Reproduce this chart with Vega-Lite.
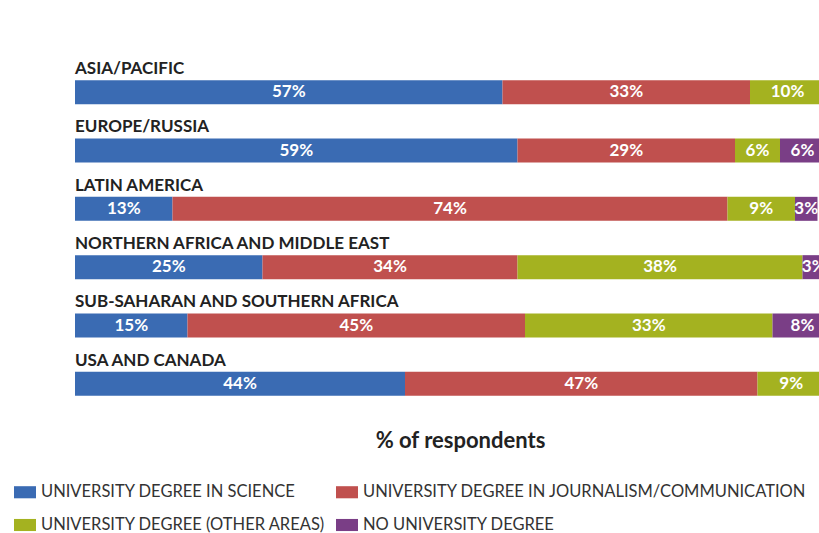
{
  "$schema": "https://vega.github.io/schema/vega-lite/v6.json",
  "width": 750,
  "height": 350,
  "autosize": "none",
  "padding": {"left": 75, "top": 63, "right": 0, "bottom": 120},
  "background": "white",
  "config": {"view": {"stroke": null}, "font": "Lato"},
  "data": {
    "values": [
      {"region": "ASIA/PACIFIC", "category": "UNIVERSITY DEGREE IN SCIENCE", "k": 1, "value": 57},
      {"region": "ASIA/PACIFIC", "category": "UNIVERSITY DEGREE IN JOURNALISM/COMMUNICATION", "k": 2, "value": 33},
      {"region": "ASIA/PACIFIC", "category": "UNIVERSITY DEGREE (OTHER AREAS)", "k": 3, "value": 10},
      {"region": "ASIA/PACIFIC", "category": "NO UNIVERSITY DEGREE", "k": 4, "value": 0},
      {"region": "EUROPE/RUSSIA", "category": "UNIVERSITY DEGREE IN SCIENCE", "k": 1, "value": 59},
      {"region": "EUROPE/RUSSIA", "category": "UNIVERSITY DEGREE IN JOURNALISM/COMMUNICATION", "k": 2, "value": 29},
      {"region": "EUROPE/RUSSIA", "category": "UNIVERSITY DEGREE (OTHER AREAS)", "k": 3, "value": 6},
      {"region": "EUROPE/RUSSIA", "category": "NO UNIVERSITY DEGREE", "k": 4, "value": 6},
      {"region": "LATIN AMERICA", "category": "UNIVERSITY DEGREE IN SCIENCE", "k": 1, "value": 13},
      {"region": "LATIN AMERICA", "category": "UNIVERSITY DEGREE IN JOURNALISM/COMMUNICATION", "k": 2, "value": 74},
      {"region": "LATIN AMERICA", "category": "UNIVERSITY DEGREE (OTHER AREAS)", "k": 3, "value": 9},
      {"region": "LATIN AMERICA", "category": "NO UNIVERSITY DEGREE", "k": 4, "value": 3},
      {"region": "NORTHERN AFRICA AND MIDDLE EAST", "category": "UNIVERSITY DEGREE IN SCIENCE", "k": 1, "value": 25},
      {"region": "NORTHERN AFRICA AND MIDDLE EAST", "category": "UNIVERSITY DEGREE IN JOURNALISM/COMMUNICATION", "k": 2, "value": 34},
      {"region": "NORTHERN AFRICA AND MIDDLE EAST", "category": "UNIVERSITY DEGREE (OTHER AREAS)", "k": 3, "value": 38},
      {"region": "NORTHERN AFRICA AND MIDDLE EAST", "category": "NO UNIVERSITY DEGREE", "k": 4, "value": 3},
      {"region": "SUB-SAHARAN AND SOUTHERN AFRICA", "category": "UNIVERSITY DEGREE IN SCIENCE", "k": 1, "value": 15},
      {"region": "SUB-SAHARAN AND SOUTHERN AFRICA", "category": "UNIVERSITY DEGREE IN JOURNALISM/COMMUNICATION", "k": 2, "value": 45},
      {"region": "SUB-SAHARAN AND SOUTHERN AFRICA", "category": "UNIVERSITY DEGREE (OTHER AREAS)", "k": 3, "value": 33},
      {"region": "SUB-SAHARAN AND SOUTHERN AFRICA", "category": "NO UNIVERSITY DEGREE", "k": 4, "value": 8},
      {"region": "USA AND CANADA", "category": "UNIVERSITY DEGREE IN SCIENCE", "k": 1, "value": 44},
      {"region": "USA AND CANADA", "category": "UNIVERSITY DEGREE IN JOURNALISM/COMMUNICATION", "k": 2, "value": 47},
      {"region": "USA AND CANADA", "category": "UNIVERSITY DEGREE (OTHER AREAS)", "k": 3, "value": 9},
      {"region": "USA AND CANADA", "category": "NO UNIVERSITY DEGREE", "k": 4, "value": 0}
    ]
  },
  "transform": [
    {"stack": "value", "groupby": ["region"], "sort": [{"field": "k", "order": "ascending"}], "as": ["x0", "x1"]},
    {"calculate": "(datum.x0 + datum.x1) / 2", "as": "mid"},
    {"calculate": "datum.value + '%'", "as": "label"}
  ],
  "layer": [
    {
      "mark": {"type": "bar", "size": 24},
      "encoding": {
        "y": {"field": "region", "type": "nominal", "sort": null, "axis": null, "scale": {"paddingInner": 0, "paddingOuter": 0}},
        "x": {
          "field": "x0", "type": "quantitative",
          "scale": {"domain": [0, 100], "nice": false},
          "axis": {
            "labels": false, "ticks": false, "domain": false, "grid": false,
            "title": "% of respondents",
            "titleFontSize": 22, "titleFontWeight": "bold", "titleColor": "#222",
            "titlePadding": 17, "titleX": 385, "titleAlign": "center"
          }
        },
        "x2": {"field": "x1"},
        "color": {
          "field": "category", "type": "nominal",
          "scale": {
            "domain": ["UNIVERSITY DEGREE IN SCIENCE", "UNIVERSITY DEGREE IN JOURNALISM/COMMUNICATION", "UNIVERSITY DEGREE (OTHER AREAS)", "NO UNIVERSITY DEGREE"],
            "range": ["#3a6bb3", "#c0504e", "#a4b220", "#7a3e86"]
          },
          "legend": {
            "title": null, "orient": "none", "legendX": -61, "legendY": 418,
            "direction": "horizontal",
            "columns": 2, "gridAlign": "each", "columnPadding": 10, "rowPadding": 13,
            "symbolType": "M-1,-0.55H1V0.55H-1Z", "symbolSize": 484, "symbolStrokeWidth": 0,
            "labelFontSize": 16.5, "labelColor": "#333", "labelLimit": 600, "labelOffset": 5
          }
        }
      }
    },
    {
      "transform": [{"filter": "datum.value > 0"}],
      "mark": {"type": "text", "color": "white", "fontWeight": "bold", "fontSize": 17, "baseline": "middle"},
      "encoding": {
        "y": {"field": "region", "type": "nominal", "sort": null},
        "x": {"field": "mid", "type": "quantitative"},
        "text": {"field": "label"}
      }
    },
    {
      "transform": [{"filter": "datum.k == 1"}],
      "mark": {"type": "text", "align": "left", "baseline": "alphabetic", "fontWeight": "bold", "fontSize": 17, "dy": 11, "color": "#222"},
      "encoding": {
        "y": {"field": "region", "type": "nominal", "sort": null, "bandPosition": 0},
        "x": {"datum": 0, "type": "quantitative"},
        "text": {"field": "region"}
      }
    }
  ]
}
